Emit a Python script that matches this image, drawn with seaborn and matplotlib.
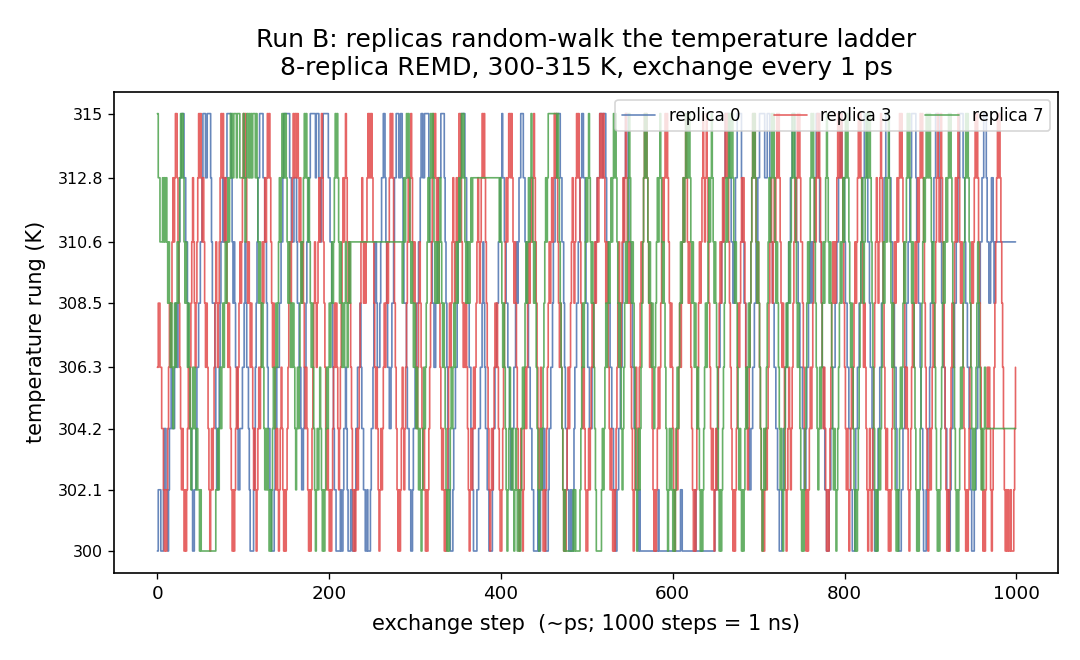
import matplotlib
matplotlib.use("Agg")
import matplotlib.pyplot as plt
import numpy as np
import pandas as pd
import seaborn as sns

# temperature ladder (8 rungs, geometric 300-315 K)
rungs = [300, 302.1, 304.2, 306.3, 308.5, 310.6, 312.8, 315]
rung_labels = ["300", "302.1", "304.2", "306.3", "308.5", "310.6", "312.8", "315"]

# rung index per exchange step (groups of 10 steps)
replica0 = """
0111000122 1101223222 3443456677 7665543322 1001123344 5567776677 7765444321 1234556556 6777776545 4332112223
3454332100 0012345667 7776655432 2110001223 3344556777 7777665556 6654433211 2334556677 7777677766 5667777776
6554321100 0001001223 2100011000 1223334322 1100100012 2345543334 5667765433 2234456677 7667765444 3221100122
3344556776 6777776555 4433445666 7777654321 1000122334 5566777766 5443322100 0011223345 4322110000 1223344556
6766554433 2112233454 5667776655 4433221100 0001001112 2100012233 4556677776 6554322110 0100123344 5566776654
4332223344 5566677767 7765544332 2110011223 3456677765 5443322111 0100000000 0000000000 0001000000 0000000000
0000000001 1000000000 0000001000 0000000000 0000000001 1223344556 6777776655 4456677777 6554433221 1223344556
6777777666 7776554433 2211000112 2334455667 7766554433 3221123344 5545566777 6554332110 0011223334 4556677666
5443322110 0012233445 5667776554 3321100012 2334456677 7766554433 2110001122 3344556677 7776554432 2100011223
4455667777 6654433221 1001223344 5566777766 5443322100 0112234455 6677765544 5665455555 5555555555 5555555555
"""

replica3 = """
3443322101 0123434565 6776543212 1010123234 5654345676 7656543432 1012123454 3456767656 5434321010 1232345456
7676545434 3212101232 3454565676 7654343212 1012321010 1234545676 7767656545 4323210101 2345434565 6765432121
0101234343 2123456567 6545432101 0121234565 4545676767 6543232101 2123434545 6767654321 0101232123 4565676545
4323454321 2101012345 6767656543 2121010123 4345654565 6776543434 3210121232 3456545676 7654321012 1234343210
0123456567 7676545432 1012101232 3454565676 5432123210 1012345456 5676765434 3210101232 3456545676 7654323210
0121234345 4565676767 6545432121 0101234543 4565676545 4321012321 2345456767 6543432101 0123234565 6767654343
2101212343 4565676545 4321010123 4545676567 6543212101 2123454565 6767654321 0101234345 6565432123 4567676545
4321010121 2345654565 6767654343 2101232123 4565676765 5432101012 3234565676 7654323210 1012345454 5676767654
3212101232 3454567676 5434321012 1012345654 5676543212 1010123454 5656767654 3232101234 3454565676 7654321012
1234345676 5676543210 1012343456 5676545432 1010123454 5676765432 1010123232 1012345676 7654321010 1001000123
"""

replica7 = """
7665556565 6545434323 4345456767 6545434321 2323212110 1000000000 0000000011 2123234345 4565676767 7767776666
7656776767 6777676545 4343212121 0101232343 4565676767 6545434343 2123234545 6767656543 4321012123 2101012323
4345456767 6545434345 4345455555 5555555555 5555555555 5555555555 5555555555 5555555555 5555545656 7676545434
3232121012 3234565676 7654545456 5434321010 1232343454 5656767654 5454565666 6666666666 6666666666 6666666656
5434321012 3212101210 0101232345 4565676545 4321012123 4565677777 7777767654 3210100000 0000101000 0012343456
5676545432 1000000121 2343454565 6767654343 2123454567 6545432101 2123456767 6545434323 4565676545 4321012121
0101232345 4565676767 6545434323 2101012343 4565676545 4321010123 4565676767 6545432121 0101232343 4567676545
4321012123 4565676765 4543212101 2343454567 6765434321 0101234545 6767654321 2323454567 6545432121 0123454565
6767654343 2101012345 6545676767 6543210101 2123454565 6765434321 0101232345 4567676545 4321010123 4565676767
6545432101 0123454565 6767654321 0101232345 6767654321 2123454321 2123222222 2222222222 2222222222 2222222222
"""

replica_names = ["replica 0", "replica 3", "replica 7"]
colors = ["#4C72B0", "#E24A4A", "#4CA24C"]

frames = []
for name, seq in zip(replica_names, [replica0, replica3, replica7]):
    idx = [int(c) for c in seq if c.isdigit()]
    frames.append(pd.DataFrame({
        "step": np.arange(len(idx)),
        "T": [rungs[i] for i in idx],
        "replica": name,
    }))
df = pd.concat(frames, ignore_index=True)

sns.set_style("ticks")
plt.rcParams["font.family"] = ["DejaVu Sans"]
plt.rcParams["text.color"] = "black"
plt.rcParams["axes.labelcolor"] = "black"
plt.rcParams["xtick.color"] = "black"
plt.rcParams["ytick.color"] = "black"

fig, ax = plt.subplots(figsize=(9, 5.5), dpi=120)

for name, col in zip(replica_names, colors):
    sub = df[df["replica"] == name]
    sns.lineplot(data=sub, x="step", y="T", ax=ax, color=col, lw=1.0,
                 alpha=0.85, drawstyle="steps-post", label=name)

ax.set_yticks(rungs)
ax.set_yticklabels(rung_labels, fontsize=9.5)
ax.tick_params(axis="x", labelsize=11)
ax.set_xlabel("exchange step  (~ps; 1000 steps = 1 ns)", fontsize=12.5, labelpad=7)
ax.set_ylabel("temperature rung (K)", fontsize=12.5, labelpad=7)
ax.set_title("Run B: replicas random-walk the temperature ladder\n8-replica REMD, 300-315 K, exchange every 1 ps",
             fontsize=15, pad=10)
for s in ax.spines.values():
    s.set_color("black")
    s.set_linewidth(1.0)
ax.legend(loc="upper right", ncol=3, fontsize=10, framealpha=0.8)

fig.subplots_adjust(left=0.106, right=0.98, top=0.861, bottom=0.132)
plt.savefig("out.png", dpi=120)
